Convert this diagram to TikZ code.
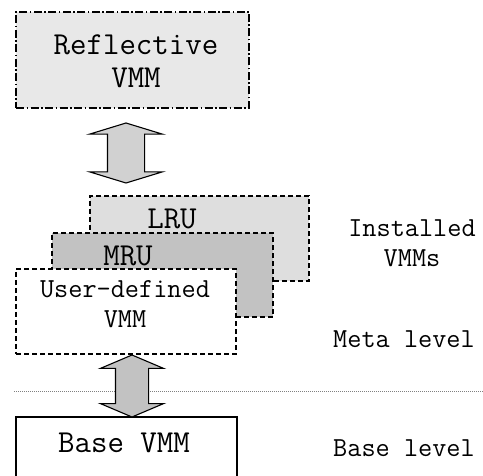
\documentclass[tikz,border=0pt]{standalone}
\usepackage{fontspec}
\usepackage{tikz}
\usetikzlibrary{shapes.arrows}

\definecolor{reflgray}{gray}{0.91}
\definecolor{lrugray}{gray}{0.87}
\definecolor{mrugray}{gray}{0.76}
\definecolor{arrgray}{gray}{0.82}

\begin{document}
\begin{tikzpicture}[x=1pt, y=-1pt,
    vmmbox/.style={rectangle, draw, line width=1.1pt, inner sep=0pt},
    dashbox/.style={vmmbox, dash pattern=on 5pt off 3pt},
    bigtxt/.style={font=\ttfamily\fontsize{32}{33}\selectfont, align=center, inner sep=0pt},
    smalltxt/.style={font=\ttfamily\fontsize{27.5}{30}\selectfont, align=center, inner sep=0pt},
    fatarrow/.style={double arrow, draw, line width=1.1pt, rotate=90, inner xsep=0pt, minimum height=#1}]
  \useasboundingbox (0, 0) rectangle (483, 476);

  % reflective level
  \node [vmmbox, fill=reflgray, dash pattern=on 8pt off 2.5pt on 1.5pt off 2.5pt,
         minimum width=233pt, minimum height=96pt] (refl) at (132.5, 60) {};
  \node [bigtxt] (refltxt) at (136, 61) {Reflective\\VMM};

  \node [fatarrow=60pt, fill=arrgray, inner ysep=18pt, double arrow head extend=18pt,
         double arrow tip angle=146] (arr1) at (126, 153) {};

  % installed VMMs
  \node [dashbox, fill=lrugray, minimum width=219pt, minimum height=85pt] (lru) at (199.5, 238.5) {};
  \node [bigtxt] (lrutxt) at (172, 219) {LRU};
  \node [dashbox, fill=mrugray, minimum width=221pt, minimum height=84pt] (mru) at (162.5, 275) {};
  \node [bigtxt] (mrutxt) at (128, 256) {MRU};
  \node [dashbox, fill=white, minimum width=220pt, minimum height=85pt] (user) at (126, 311.5) {};
  \node [smalltxt] (usertxt) at (125, 304) {User-defined\\VMM};

  \node [smalltxt] (inst) at (412, 243) {Installed\\VMMs};
  \node [smalltxt] (meta) at (404, 339) {Meta level};

  % base level
  \draw [gray, line width=0.9pt, dash pattern=on 1pt off 1pt] (14, 391) -- (483, 391);
  \node [vmmbox, minimum width=221pt, minimum height=73pt] (base) at (126.5, 453.5) {};
  \node [bigtxt] (basetxt) at (124, 443) {Base VMM};
  \node [smalltxt] (baselvl) at (404, 448) {Base level};

  \node [fatarrow=62pt, fill=mrugray, inner ysep=16pt, double arrow head extend=15pt,
         double arrow tip angle=134] (arr2) at (132, 386) {};
\end{tikzpicture}
\end{document}
